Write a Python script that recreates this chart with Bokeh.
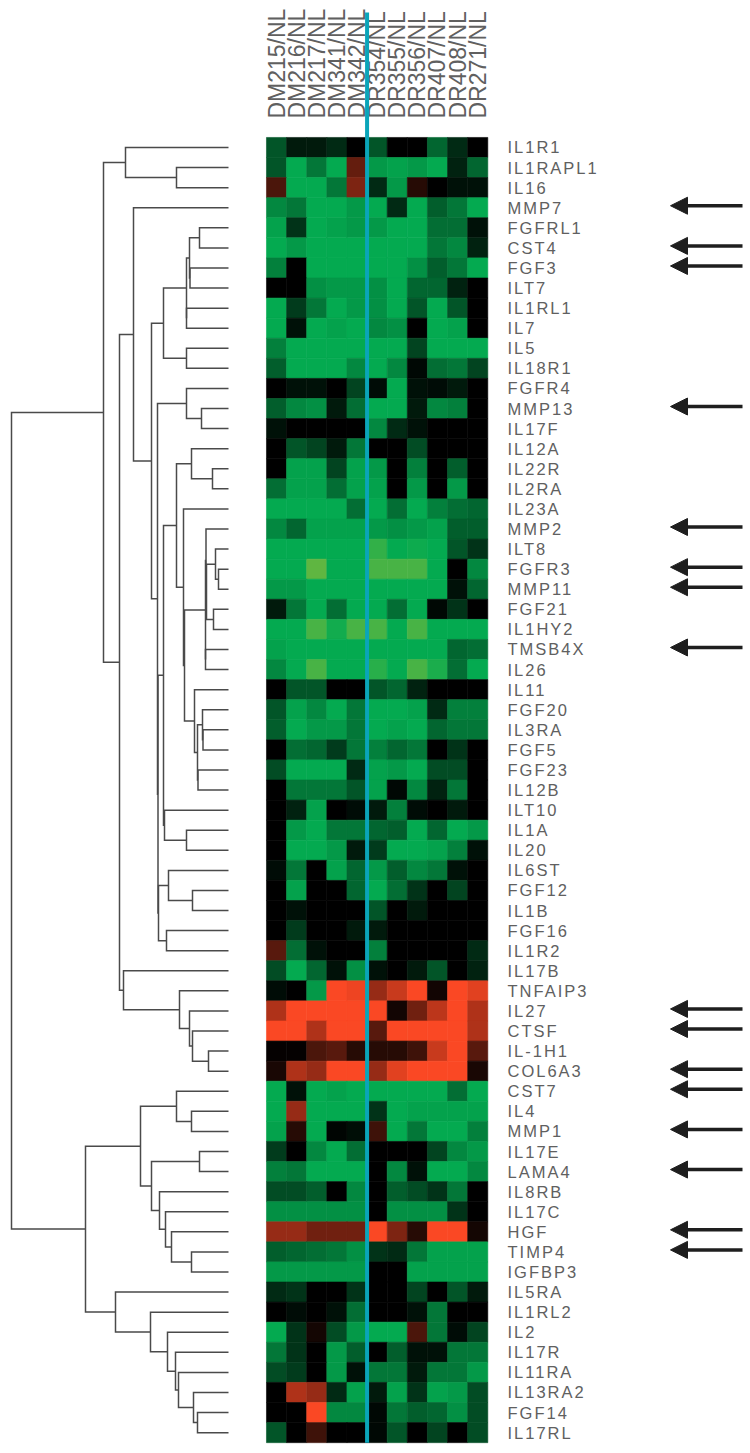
from bokeh.plotting import figure
from bokeh.layouts import row
from bokeh.embed import file_html
from bokeh.resources import INLINE
from bokeh.models import Range1d, ColumnDataSource, LinearColorMapper, Arrow, NormalHead
from bokeh.core.properties import value
from bokeh.transform import transform

samples = ["DM215/NL", "DM216/NL", "DM217/NL", "DM341/NL", "DM342/NL", "DR354/NL",
           "DR355/NL", "DR356/NL", "DR407/NL", "DR408/NL", "DR271/NL"]

genes = ["IL1R1", "IL1RAPL1", "IL16", "MMP7", "FGFRL1", "CST4", "FGF3", "ILT7", "IL1RL1", "IL7",
         "IL5", "IL18R1", "FGFR4", "MMP13", "IL17F", "IL12A", "IL22R", "IL2RA", "IL23A", "MMP2",
         "ILT8", "FGFR3", "MMP11", "FGF21", "IL1HY2", "TMSB4X", "IL26", "IL11", "FGF20", "IL3RA",
         "FGF5", "FGF23", "IL12B", "ILT10", "IL1A", "IL20", "IL6ST", "FGF12", "IL1B", "FGF16",
         "IL1R2", "IL17B", "TNFAIP3", "IL27", "CTSF", "IL-1H1", "COL6A3", "CST7", "IL4", "MMP1",
         "IL17E", "LAMA4", "IL8RB", "IL17C", "HGF", "TIMP4", "IGFBP3", "IL5RA", "IL1RL2", "IL2",
         "IL17R", "IL11RA", "IL13RA2", "FGF14", "IL17RL"]

# log-ratio: negative green, positive red (tenths of full scale)
expression = [
    [-5, -1.5, -1.5, -2.5, 0, -5, 0, 0, -6, -2.5, 0],
    [-5, -10, -7, -10, 4, -9, -9.5, -9, -10, -2, -6],
    [3, -10, -10, -7, 5, -2.5, -9, 1.5, 0, -1, -1],
    [-8, -7, -10, -10, -9, -10, -2.5, -10, -5.5, -7, -10],
    [-9.5, -3, -10, -9.5, -9, -9, -10, -10, -6.5, -6.5, -1],
    [-10, -9, -10, -10, -10, -10, -10, -10, -7, -8, -2],
    [-7.5, 0, -10, -10, -10, -10, -10, -8.5, -5.5, -7, -10],
    [0, 0, -8.5, -9, -9, -8.5, -10, -6, -6, -2, 0],
    [-10, -3.5, -7, -10, -9, -8.5, -10, -5, -10, -5, 0],
    [-10, -1, -10, -9.5, -10, -8, -8.5, 0, -10, -9.5, 0],
    [-7.5, -10, -10, -10, -10, -10, -10, -4, -10, -10, -10],
    [-5.5, -10, -10, -10, -8, -10, -8, -0.5, -6.5, -7, -4],
    [0, -1, -1, 0, -4, -0.7, -10, -1, -0.7, -1.5, 0],
    [-5.5, -8, -8.5, -1.5, -6.5, -10, -10, -1.5, -8, -7.5, 0],
    [-1, 0, 0, 0, 0, -8, -2.5, -1, 0, 0, 0],
    [0, -5, -4, -1.5, -7, 0, 0, -4.5, 0, 0, 0],
    [0, -9.5, -9.5, -4, -9.5, -9, 0, -7.5, 0, -5.5, 0],
    [-6.5, -9.5, -9.5, -6.5, -9.5, -9.5, 0, -9, 0, -9, 0],
    [-10, -10, -10, -10, -6.5, -10, -6.5, -10, -7.5, -6.5, -6],
    [-8, -6, -9.5, -9.5, -9.5, -9, -8.5, -9, -9.5, -5.5, -5.5],
    [-10, -10, -10, -10, -10, -11, -10, -10.2, -10, -5, -3],
    [-10, -10, -12, -10, -10, -11.5, -11.5, -11.5, -10, 0, -8],
    [-9, -9, -10, -10, -10, -10, -10, -10, -10, -1, -6],
    [-1.5, -7, -10, -6.5, -10, -10, -6.5, -10, -0.5, -3, 0],
    [-10, -10, -11.5, -10.3, -11.5, -11.5, -10, -11.5, -10, -10, -10],
    [-9.5, -10, -10, -10, -10, -10, -10, -10, -10, -6, -6.5],
    [-8, -10, -11.5, -10, -10, -10.8, -10, -11.5, -10.5, -6.5, -10],
    [0, -5, -5, 0, 0, -5, -6, -2, 0, 0, 0],
    [-5, -9.5, -8, -10, -7, -10, -10, -9.5, -2.5, -7.5, -7.5],
    [-5.5, -10, -9, -9, -7, -10, -9.5, -10, -6, -7, -7],
    [0, -6.5, -6, -3.5, -7, -7.5, -6, -7, 0, -3, 0],
    [-4.5, -10, -10, -10, -2.5, -9.5, -9, -10, -4.5, -4.5, 0],
    [0, -7, -7, -7, -5, -9.5, -0.5, -8, -2, -7, 0],
    [0, -2, -9.5, 0, -0.7, -1.5, -7.5, -0.7, 0, -1.5, 0],
    [0, -9, -10, -7, -7, -6, -5.5, -10, -6, -10, -9],
    [0, -10, -10, -9, -1.5, -3.5, -10, -10, -9.5, -7.5, -1],
    [-0.7, -7, 0, -9.5, -6, -9, -5.5, -8, -7, -1, 0],
    [0, -9.5, 0, 0, -6, -10, -6.5, -3, 0, -4, 0],
    [0, -1, 0, 0, 0, -5, 0, -1.5, 0, 0, 0],
    [0, -3.5, 0, 0, -1.5, -1.5, 0, 0, 0, 0, 0],
    [3.5, -6.5, -1, 0, 0, -7.5, 0, 0, 0, 0, -2.5],
    [-4.5, -10, -6, -1, -8.5, -1, 0, -1.5, -5, 0, -2],
    [-0.7, 0, -9, 10, 9.5, 6, 8, 10, 0.7, 10, 9],
    [7, 10, 10, 10, 10, 10, 0.7, 4.5, 7.5, 10, 7],
    [10, 10, 7, 10, 10, 3.5, 10, 10, 10, 10, 7],
    [0.2, 0.2, 3, 3.5, 1.5, 1.5, 1.5, 2.5, 8, 10, 3.5],
    [1, 7, 6, 10, 10, 6, 9, 10, 10, 10, 1],
    [-10, -1, -10, -9.5, -10, -10, -10, -10, -10, -6.5, -10],
    [-10, 6, -10, -10, -10, -3, -10, -9.5, -9.5, -9.5, -9.5],
    [-9.5, 1.5, -10, -0.3, -0.8, 2.5, -10, -7, -10, -10, -7.5],
    [-3.5, 0, -8, -10, -6.5, 0, 0, 0, -4, -8, -9],
    [-7.5, -7, -10, -10, -10, 0, -8, -1, -10, -10, -8],
    [-4.5, -4.5, -5.5, 0, -8, 0, -5.5, -4.5, -3, -7, 0],
    [-8.5, -8.5, -8.5, -8.5, -8.5, 0, -8.5, -8.5, -8.5, -3, 0],
    [6, 6, 4.5, 4.5, 4.5, 10, 5, 1.5, 10, 10, 0.8],
    [-5.5, -6, -6.5, -7, -8.5, -3, -2.5, -7, -9.5, -9.5, -9.5],
    [-9, -9, -9, -9, -9, 0, 0, -9.5, -9.5, -9.5, -9.5],
    [-2.5, -3, 0, 0, -3, 0, 0, -4, 0, -5, -1.5],
    [0, -0.7, 0, -1, -6.5, 0, 0, -1, -7, 0, 0],
    [-10, -3, 0.8, -4.5, -9, -10, -10, 3, -7, -0.7, -4],
    [-7, -3, 0, -9, -5.5, 0, -5.5, -1, -1, -7, -7],
    [-4.5, -3.5, 0, -9, -1, -7, -7, -1.5, -7, -7, -9],
    [0, 7, 6, -2.5, -9.5, -1.5, -9.5, -3, -9.5, -9, -4.5],
    [0, 0, 10, -8, -8, -0.5, -7, -5.5, -6, -8.5, -4.5],
    [-5, 0, 2.5, 0, 0, -0.5, -5, 0, -4, 0, -4.5],
]

flagged = ["MMP7", "CST4", "FGF3", "MMP13", "MMP2", "FGFR3", "MMP11", "TMSB4X", "IL27", "CTSF",
           "COL6A3", "CST7", "MMP1", "LAMA4", "HGF", "TIMP4"]

# cluster tree: (merge distance, child, child)
tree = (217,
  (125,
    (103, "IL1R1", (52, "IL1RAPL1", "IL16")),
    (109,
      (95, "MMP7",
        (77,
          (65,
            (42,
              (39, (29, "FGFRL1", "CST4"), (38.5, "FGF3", "ILT7")),
              (42, "IL1RL1", "IL7")),
            (42, "IL5", "IL18R1")),
          (71,
            (42, "FGFR4", (27, "MMP13", "IL17F")),
            (70.5,
              (65,
                (52,
                  (37, "IL12A", (16, "IL22R", "IL2RA")),
                  (45, "IL23A",
                    (44,
                      (23,
                        (22.5, "MMP2",
                          (22, (13, "ILT8", (10, "FGFR3", "MMP11")), (15, "FGF21", "IL1HY2"))),
                        (23, "TMSB4X", "IL26")),
                      (34, "IL11",
                        (31, (26, "FGF20", (25.5, "IL3RA", "FGF5")), (30.5, "FGF23", "IL12B")))))),
                (64, "ILT10", (42, "IL1A", "IL20"))),
              (70, (60, "IL6ST", (36, "FGF12", "IL1B")), (62, "FGF16", "IL1R2")))))),
      (105, "IL17B",
        (49, "TNFAIP3",
          (39, "IL27",
            (36, "CTSF", (20, "IL-1H1", "COL6A3"))))))),
  (143,
    (88,
      (52, "CST7", (37, "IL4", "MMP1")),
      (77, (29, "IL17E", "LAMA4"),
        (69, "IL8RB", (63, "IL17C", (57, "HGF", (37, "TIMP4", "IGFBP3")))))),
    (113, "IL5RA",
      (78, "IL1RL2",
        (61, "IL2",
          (53, "IL17R",
            (50, "IL11RA",
              (35, "IL13RA2", (31, "FGF14", "IL17RL")))))))))

GREY = "#606060"
ROW_RANGE = (64.89, -7.32)

def ramp(v):
    if v >= 0:
        t = v / 10
        c = (250 * t, 72 * t, 36 * t)
    elif v >= -10:
        t = -v / 10
        c = (4 * t, 170 * t, 80 * t)
    else:
        t = (-v - 10) / 2
        c = (4 + 91 * t, 170 + 12 * t, 80 - 15 * t)
    return "#%02x%02x%02x" % tuple(int(round(k)) for k in c)

palette = [ramp(-12 + 0.1 * i) for i in range(221)]
mapper = LinearColorMapper(palette=palette, low=-12, high=10)

p = figure(width=505, height=1450, output_backend="svg", toolbar_location=None,
           x_range=Range1d(-13.72, 11.38), y_range=Range1d(*ROW_RANGE),
           x_axis_location=None, y_axis_location=None,
           min_border=0, outline_line_color=None)
p.grid.visible = False
p.extra_x_ranges = {"dist": Range1d(228, -277)}

# dendrogram
xs, ys = [], []
def walk(n):
    if isinstance(n, str):
        return 0, genes.index(n)
    d, a, b = n
    da, ya = walk(a)
    db, yb = walk(b)
    xs.append([da, d, d, db])
    ys.append([ya, ya, yb, yb])
    return d, (ya + yb) / 2
walk(tree)
p.multi_line(xs, ys, x_range_name="dist", line_color="#4a4a4a", line_width=1.5,
             line_join="miter", line_cap="butt")

# heat map
cx, cy, cv = [], [], []
for r, vals in enumerate(expression):
    for c, v in enumerate(vals):
        cx.append(c); cy.append(r); cv.append(v)
src = ColumnDataSource(dict(x=cx, y=cy, v=cv))
p.rect("x", "y", width=1, height=1, source=src,
       fill_color=transform("v", mapper), line_color=transform("v", mapper), line_width=0.6)

# column labels
p.text(list(range(len(samples))), [-1.44] * len(samples), text=samples, angle=1.5708,
       text_align="left", text_baseline="middle", text_font=value("Liberation Sans"),
       text_font_size="23px", text_color=GREY)

# divider between the two sample groups
p.line([4.5, 4.5], [-6.72, 64.5], line_color="#0aa5b9", line_width=4, line_cap="butt")

q = figure(width=240, height=1450, output_backend="svg", toolbar_location=None,
           x_range=Range1d(505, 745), y_range=Range1d(*ROW_RANGE),
           x_axis_location=None, y_axis_location=None,
           min_border=0, outline_line_color=None)
q.grid.visible = False
q.styles = {"letter-spacing": "2px"}
q.text([507] * len(genes), list(range(len(genes))), text=genes, text_align="left",
       text_baseline="middle", text_font=value("Liberation Sans"),
       text_font_size="16.5px", text_color=GREY)

ay = [genes.index(g) - 0.1 for g in flagged]
asrc = ColumnDataSource(dict(x0=[742] * len(ay), x1=[670] * len(ay), y0=ay, y1=ay))
q.add_layout(Arrow(end=NormalHead(size=17, fill_color="#1e1e1e", line_color="#1e1e1e", line_width=1),
                   x_start="x0", y_start="y0", x_end="x1", y_end="y1", source=asrc,
                   line_color="#1e1e1e", line_width=3.5))

layout = row(p, q, spacing=0)
open("out.html", "w").write(file_html(layout, INLINE))
